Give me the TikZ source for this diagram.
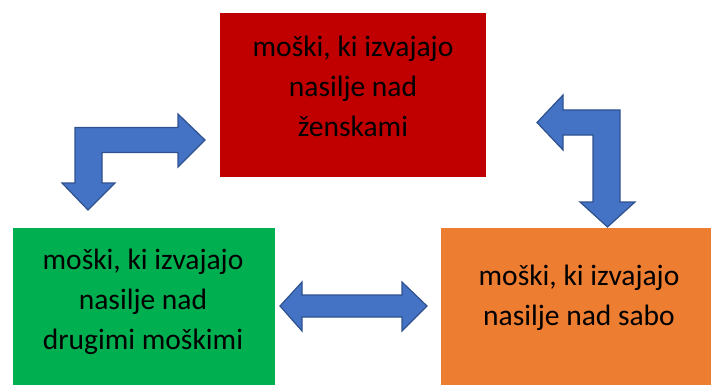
\documentclass[tikz,border=0pt]{standalone}
\usepackage{fontspec}
\setmainfont{Carlito}
\definecolor{boxred}{HTML}{C00000}
\definecolor{boxgreen}{HTML}{00B050}
\definecolor{boxorange}{HTML}{ED7D31}
\definecolor{arrowfill}{HTML}{4472C4}
\definecolor{arrowline}{HTML}{2F528F}
\tikzset{
  panel/.style={draw=none, inner sep=0pt, outer sep=0pt},
  label/.style={align=center, inner sep=0pt, font=\fontsize{29.5}{40}\selectfont, text=black},
  blockarrow/.style={fill=arrowfill, draw=arrowline, line width=1.2pt, line join=miter},
}
\begin{document}
\begin{tikzpicture}[x=1pt, y=-1pt]
\useasboundingbox (0,0) rectangle (711,385);
% boxes
\path[fill=boxred] (220,13) rectangle (486,177);
\node[panel] (red) at (353,95) {};
\path[fill=boxgreen] (13,228) rectangle (275,385);
\node[panel] (green) at (144,306) {};
\path[fill=boxorange] (441,228) rectangle (711,385);
\node[panel] (orange) at (576,306) {};
% texts
\node[label] (redtext) at (353,86) {moški, ki izvajajo\\nasilje nad\\ženskami};
\node[label] (greentext) at (143,302) {moški, ki izvajajo\\nasilje nad\\drugimi moškimi};
\node[label] (orangetext) at (579,298) {moški, ki izvajajo\\nasilje nad sabo};
% arrows
\draw[blockarrow] (88,210) -- (115,183) -- (102,183) -- (102,152.5) -- (178,152.5) -- (178,167)
  -- (205,140) -- (178,114) -- (178,127.5) -- (75,127.5) -- (75,183) -- (62,183) -- cycle;
\draw[blockarrow] (537,122.5) -- (563,95) -- (563,110) -- (620,110) -- (620,202) -- (635,202)
  -- (607.5,227) -- (580,202) -- (593,202) -- (593,135) -- (563,135) -- (563,150) -- cycle;
\draw[blockarrow] (280,306) -- (302,282) -- (302,295) -- (402,295) -- (402,282) -- (427,306)
  -- (402,331) -- (402,317) -- (302,317) -- (302,331) -- cycle;
\end{tikzpicture}
\end{document}
